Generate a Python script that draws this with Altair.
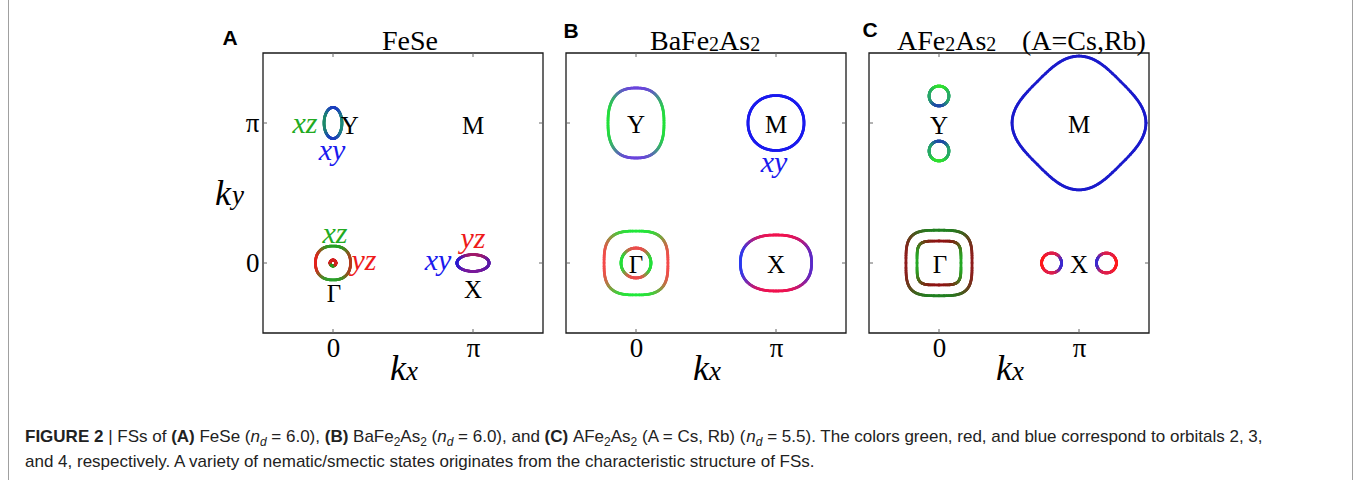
import numpy as np
import pandas as pd
import altair as alt

# ---------------------------------------------------------------------------
# Fermi-surface pockets, momenta in units of pi
# ---------------------------------------------------------------------------
pocket_panel = ["A", "A", "A", "A",
                "B", "B", "B", "B", "B",
                "C", "C", "C", "C", "C", "C", "C"]
pocket_kx = [0.0, 0.0, 0.0, 1.0,
             0.0, 1.0, 0.0, 0.0, 1.0,
             0.0, 0.0, 1.0, 0.0, 0.0, 0.804, 1.196]
pocket_ky = [1.0, 0.0, 0.0, 0.0,
             1.0, 1.0, 0.0, 0.0, 0.0,
             1.193, 0.80, 1.0, 0.0, 0.0, 0.0, 0.0]
pocket_ax = [0.064, 0.125, 0.021, 0.115,
             0.200, 0.200, 0.228, 0.107, 0.254,
             0.071, 0.071, 0.478, 0.236, 0.157, 0.071, 0.071]
pocket_ay = [0.111, 0.121, 0.021, 0.060,
             0.250, 0.196, 0.228, 0.107, 0.200,
             0.071, 0.071, 0.478, 0.234, 0.157, 0.071, 0.071]
pocket_power = [2.0, 2.3, 2.0, 2.0,
                2.5, 2.1, 3.0, 2.0, 2.4,
                2.0, 2.0, 3.2, 3.6, 4.5, 2.0, 2.0]
pocket_rotation = [0, 0, 0, 0,
                   0, 0, 0, 0, 0,
                   0, 0, 45, 0, 0, 0, 0]
# orbital colour on the right, top, left and bottom side of each pocket
pocket_colors = [
    ["#1e8a78", "#1d3fbf", "#1e8a6a", "#1d3fbf"],
    ["#b23a1c", "#24a024", "#e2221c", "#2aa02a"],
    ["#d42222", "#d42222", "#d42222", "#22a022"],
    ["#5a1aa8", "#a01a6a", "#2a1ad0", "#7a1a9a"],
    ["#22e03a", "#6a44dc", "#22e03a", "#6a44dc"],
    ["#1a1aee", "#1a1aee", "#1a1aee", "#1a1aee"],
    ["#f44a4a", "#20e83a", "#f44a4a", "#20e83a"],
    ["#22e03a", "#ec4c4c", "#22e03a", "#ec4c4c"],
    ["#5a2ac8", "#f0124e", "#2a3af0", "#f0124e"],
    ["#28a868", "#30e030", "#28a868", "#1e4aa8"],
    ["#28a868", "#1e4aa8", "#28a868", "#30e030"],
    ["#1a1acc", "#1a1acc", "#1a1acc", "#1a1acc"],
    ["#8e1c1c", "#208020", "#8e1c1c", "#208020"],
    ["#24a824", "#8e1212", "#24a824", "#8e1212"],
    ["#3a2ad0", "#e0204a", "#ff1a1a", "#e0204a"],
    ["#ff1a1a", "#e0204a", "#3a2ad0", "#e0204a"],
]

# symmetry-point and orbital labels (baseline position in units of pi)
label_panel = ["A"] * 10 + ["B"] * 5 + ["C"] * 4
label_text = ["xz", "Y", "xy", "M", "xz", "yz", "Γ", "yz", "xy", "X",
              "Y", "M", "xy", "Γ", "X",
              "Y", "M", "Γ", "X"]
label_kx = [-0.20, 0.12, -0.007, 1.0, 0.014, 0.221, 0.007, 1.0, 0.75, 1.0,
            0.0, 1.0, 0.986, 0.0, 1.0,
            0.0, 1.0, 0.007, 1.0]
label_ky = [0.929, 0.921, 0.736, 0.921, 0.143, -0.05, -0.279, 0.107, -0.05, -0.25,
            0.929, 0.929, 0.65, -0.071, -0.071,
            0.921, 0.929, -0.071, -0.071]
label_color = ["#22aa22", "#000000", "#1a1aee", "#000000", "#22aa22", "#ee1a1a",
               "#000000", "#ee1a1a", "#1a1aee", "#000000",
               "#000000", "#000000", "#1a1aee", "#000000", "#000000",
               "#000000", "#000000", "#000000", "#000000"]

panel_names = ["A", "B", "C"]
panel_titles = [[("FeSe", "r")],
                [("BaFe", "r"), ("2", "s"), ("As", "r"), ("2", "s")],
                [("AFe", "r"), ("2", "s"), ("As", "r"), ("2", "s")]]
tick_values = [0, 1]
tick_names = ["0", "π"]

caption_line1 = [
    ("FIGURE 2", "b"), (" | ", "r"), ("FSs of ", "r"), ("(A)", "b"), (" FeSe (", "r"),
    ("n", "i"), ("d", "si"), (" = 6.0), ", "r"), ("(B)", "b"), (" BaFe", "r"),
    ("2", "s"), ("As", "r"), ("2", "s"), (" (", "r"), ("n", "i"), ("d", "si"),
    (" = 6.0), and ", "r"), ("(C)", "b"), (" AFe", "r"), ("2", "s"), ("As", "r"),
    ("2", "s"), (" (A = Cs, Rb) (", "r"), ("n", "i"), ("d", "si"),
    (" = 5.5). The colors green, red, and blue correspond to orbitals 2, 3,", "r"),
]
caption_line2 = [
    ("and 4, respectively. A variety of nematic/smectic states originates from "
     "the characteristic structure of FSs.", "r"),
]

# ---------------------------------------------------------------------------
# layout
# ---------------------------------------------------------------------------
W, H = 1354, 480
PANEL_X0 = {"A": 263, "B": 566, "C": 869}
PANEL_SIZE = 280
PANEL_TOP, PANEL_BOTTOM = 53, 333
DOMAIN = [-0.5, 1.5]
PX_PER_UNIT = PANEL_SIZE / (DOMAIN[1] - DOMAIN[0])
SERIF = "Liberation Serif"
SANS = "Liberation Sans"

# advance widths (1/1000 em) used to lay out mixed-style runs of text
_ARIAL = {" ": 278, "(": 333, ")": 333, ",": 278, ".": 278, "/": 278, "=": 584,
          "|": 260, "A": 667, "B": 667, "C": 722, "F": 611, "R": 722, "S": 667,
          "T": 611, "a": 556, "b": 556, "c": 500, "d": 556, "e": 556, "f": 278,
          "g": 556, "h": 556, "i": 222, "j": 222, "k": 500, "l": 222, "m": 833,
          "n": 556, "o": 556, "p": 556, "q": 556, "r": 333, "s": 500, "t": 278,
          "u": 556, "v": 500, "w": 722, "x": 500, "y": 500, "z": 500}
_ARIAL_BOLD = {" ": 278, "(": 333, ")": 333, "A": 722, "B": 722, "C": 722,
               "E": 667, "F": 611, "G": 778, "I": 278, "R": 722, "U": 722}
_TIMES = {" ": 250, "(": 333, ")": 333, ",": 250, "=": 564, "A": 722, "B": 667,
          "C": 667, "F": 556, "R": 667, "S": 556, "a": 444, "b": 500, "e": 444,
          "s": 389}


def text_width(s, table, size):
    digit = 500 if table is _TIMES else 556
    return sum(table.get(ch, digit if ch.isdigit() else 556) for ch in s) * size / 1000.0


def run_rows(segments, x, y, font, size, sub_size, sub_drop, color, bold_table,
             table):
    """Lay out a run of differently styled pieces one after another."""
    rows = []
    for txt, style in segments:
        sub = style in ("s", "si")
        fs = sub_size if sub else size
        tab = bold_table if style == "b" else table
        lead = len(txt) - len(txt.lstrip(" "))
        shown = txt.strip(" ")
        if shown:
            rows.append(dict(text=shown, px=x + text_width(" " * lead, tab, fs),
                             py=y + (sub_drop if sub else 0), size=fs,
                             color=color, font=font,
                             style="italic" if style in ("i", "si") else "normal",
                             weight="bold" if style == "b" else "normal",
                             align="left"))
        x += text_width(txt, tab, fs)
    return rows


# ---------------------------------------------------------------------------
# coloured Fermi-surface contours as short segments
# ---------------------------------------------------------------------------
def hex_rgb(h):
    return np.array([int(h[i:i + 2], 16) for i in (1, 3, 5)], dtype=float)


def orbital_color(stops, ang_deg, sharp=2.2):
    pos = (ang_deg % 360.0) / 90.0
    i = int(np.floor(pos)) % 4
    f = pos - np.floor(pos)
    f = f ** sharp / (f ** sharp + (1 - f) ** sharp)
    c = (1 - f) * hex_rgb(stops[i]) + f * hex_rgb(stops[(i + 1) % 4])
    return "#%02x%02x%02x" % tuple(int(round(v)) for v in c)


N_SEG = 180
seg_rows = []
for k, p in enumerate(pocket_panel):
    t = np.linspace(0, 2 * np.pi, N_SEG + 1)
    e = 2.0 / pocket_power[k]
    ux = np.sign(np.cos(t)) * np.abs(np.cos(t)) ** e
    uy = np.sign(np.sin(t)) * np.abs(np.sin(t)) ** e
    if pocket_rotation[k]:
        r = np.deg2rad(pocket_rotation[k])
        ux, uy = ux * np.cos(r) - uy * np.sin(r), ux * np.sin(r) + uy * np.cos(r)
        ux, uy = ux / np.abs(ux).max(), uy / np.abs(uy).max()
    xs = pocket_kx[k] + pocket_ax[k] * ux
    ys = pocket_ky[k] + pocket_ay[k] * uy
    for i in range(N_SEG):
        ang = np.degrees(np.arctan2(uy[i] + uy[i + 1], ux[i] + ux[i + 1]))
        seg_rows.append(dict(panel=p, kx=xs[i], ky=ys[i], kx2=xs[i + 1],
                             ky2=ys[i + 1],
                             color=orbital_color(pocket_colors[k], ang)))
segments = pd.DataFrame(seg_rows)

labels = pd.DataFrame(dict(panel=label_panel, text=label_text, kx=label_kx,
                           ky=label_ky, color=label_color))
labels["italic"] = labels["text"].isin(["xz", "xy", "yz"])

L = 4 / PX_PER_UNIT
tick_rows = []
for v in tick_values:
    tick_rows += [dict(kx=v, ky=DOMAIN[0], kx2=v, ky2=DOMAIN[0] + L),
                  dict(kx=v, ky=DOMAIN[1], kx2=v, ky2=DOMAIN[1] - L),
                  dict(kx=DOMAIN[0], ky=v, kx2=DOMAIN[0] + L, ky2=v),
                  dict(kx=DOMAIN[1], ky=v, kx2=DOMAIN[1] - L, ky2=v)]
ticks = pd.DataFrame(tick_rows)
frame = pd.DataFrame([dict(kx=DOMAIN[0], kx2=DOMAIN[1], ky=DOMAIN[0], ky2=DOMAIN[1])])

label_expr = " : ".join(
    f"datum.value == {v} ? '{n}'" for v, n in zip(tick_values[:-1], tick_names[:-1])
) + f" : '{tick_names[-1]}'"


def panel_chart(p):
    x0 = PANEL_X0[p]
    xsc = alt.Scale(domain=DOMAIN, range=[x0, x0 + PANEL_SIZE], nice=False, zero=False)
    ysc = alt.Scale(domain=DOMAIN, range=[PANEL_BOTTOM, PANEL_TOP], nice=False, zero=False)
    common = dict(values=tick_values, labelExpr=label_expr, ticks=False, domain=False,
                  grid=False, title=None, labelFont=SERIF, labelFontSize=27,
                  labelColor="#000000", labelOverlap=False, labelFlush=False)
    xaxis = alt.Axis(orient="bottom", offset=PANEL_BOTTOM - H, labelPadding=2,
                     **common)
    yaxis = (alt.Axis(orient="left", offset=-x0, labelPadding=4, **common)
             if p == "A" else None)

    def X(field="kx"):
        return alt.X(f"{field}:Q", scale=xsc, axis=xaxis)

    def Y(field="ky"):
        return alt.Y(f"{field}:Q", scale=ysc, axis=yaxis)

    box = alt.Chart(frame).mark_rect(fillOpacity=0, stroke="#1a1a1a",
                                     strokeWidth=1.3).encode(
        x=X(), x2="kx2:Q", y=Y(), y2="ky2:Q")
    tk = alt.Chart(ticks).mark_rule(color="#666666", strokeWidth=1).encode(
        x=X(), x2="kx2:Q", y=Y(), y2="ky2:Q")
    fs = alt.Chart(segments[segments.panel == p]).mark_rule(
        strokeWidth=2.8, strokeCap="round").encode(
        x=X(), x2="kx2:Q", y=Y(), y2="ky2:Q",
        color=alt.Color("color:N", scale=None))
    lab = labels[labels.panel == p]
    up = alt.Chart(lab[~lab.italic]).mark_text(
        font=SERIF, fontSize=25, baseline="alphabetic", align="center").encode(
        x=X(), y=Y(), text="text:N", color=alt.Color("color:N", scale=None))
    it = alt.Chart(lab[lab.italic]).mark_text(
        font=SERIF, fontSize=30, fontStyle="italic", baseline="alphabetic",
        align="center").encode(
        x=X(), y=Y(), text="text:N", color=alt.Color("color:N", scale=None))
    return alt.layer(box, tk, fs, up, it)


# ---------------------------------------------------------------------------
# free text: panel letters, titles, axis names, caption
# ---------------------------------------------------------------------------
text_rows = []
for name, lx, ly in zip(panel_names, [230, 571, 870], [45, 38, 37]):
    text_rows.append(dict(text=name, px=lx, py=ly, size=21, color="#000000",
                          font=SANS, style="normal", weight="bold", align="center"))
for segs, sx in zip(panel_titles, [382, 650, 897]):
    text_rows += run_rows(segs, sx, 50, SERIF, 28, 20, 1, "#000000", _TIMES, _TIMES)
text_rows += run_rows([("(A=Cs,Rb)", "r")], 1022, 50, SERIF, 28, 20, 1, "#000000",
                      _TIMES, _TIMES)
for p in panel_names:
    x0 = PANEL_X0[p]
    text_rows.append(dict(text="k", px=x0 + 135, py=380, size=36, color="#000000",
                          font=SERIF, style="italic", weight="normal", align="center"))
    text_rows.append(dict(text="x", px=x0 + 149, py=380, size=27, color="#000000",
                          font=SERIF, style="italic", weight="normal", align="center"))
text_rows.append(dict(text="k", px=223, py=205, size=36, color="#000000",
                      font=SERIF, style="italic", weight="normal", align="center"))
text_rows.append(dict(text="y", px=238, py=204, size=27, color="#000000",
                      font=SERIF, style="italic", weight="normal", align="center"))
text_rows += run_rows(caption_line1, 25, 442, SANS, 17, 12, 4, "#222222",
                      _ARIAL_BOLD, _ARIAL)
text_rows += run_rows(caption_line2, 25, 467, SANS, 17, 12, 4, "#222222",
                      _ARIAL_BOLD, _ARIAL)
free_text = pd.DataFrame(text_rows)

free_layers = []
for (font, style, weight, align), grp in free_text.groupby(
        ["font", "style", "weight", "align"]):
    free_layers.append(
        alt.Chart(grp).mark_text(font=font, fontStyle=style, fontWeight=weight,
                                 align=align, baseline="alphabetic").encode(
            x=alt.X("px:Q", scale=None, axis=None),
            y=alt.Y("py:Q", scale=None, axis=None),
            text="text:N",
            size=alt.Size("size:Q", scale=None, legend=None),
            color=alt.Color("color:N", scale=None)))

border = pd.DataFrame(dict(px=[8.5, 1352.5], py=[0, 0], py2=[H, H]))
border_layer = alt.Chart(border).mark_rule(color="#a0a0a0", strokeWidth=1).encode(
    x=alt.X("px:Q", scale=None, axis=None),
    y=alt.Y("py:Q", scale=None, axis=None),
    y2="py2:Q")

chart = alt.layer(
    *[panel_chart(p) for p in panel_names], border_layer, *free_layers
).resolve_scale(x="independent", y="independent").properties(
    width=W, height=H, padding=0,
    autosize=alt.AutoSizeParams(type="none", contains="padding"),
    background="#ffffff",
).configure_view(stroke=None)

chart.save("out.html", embed_options={"renderer": "svg", "actions": False})
